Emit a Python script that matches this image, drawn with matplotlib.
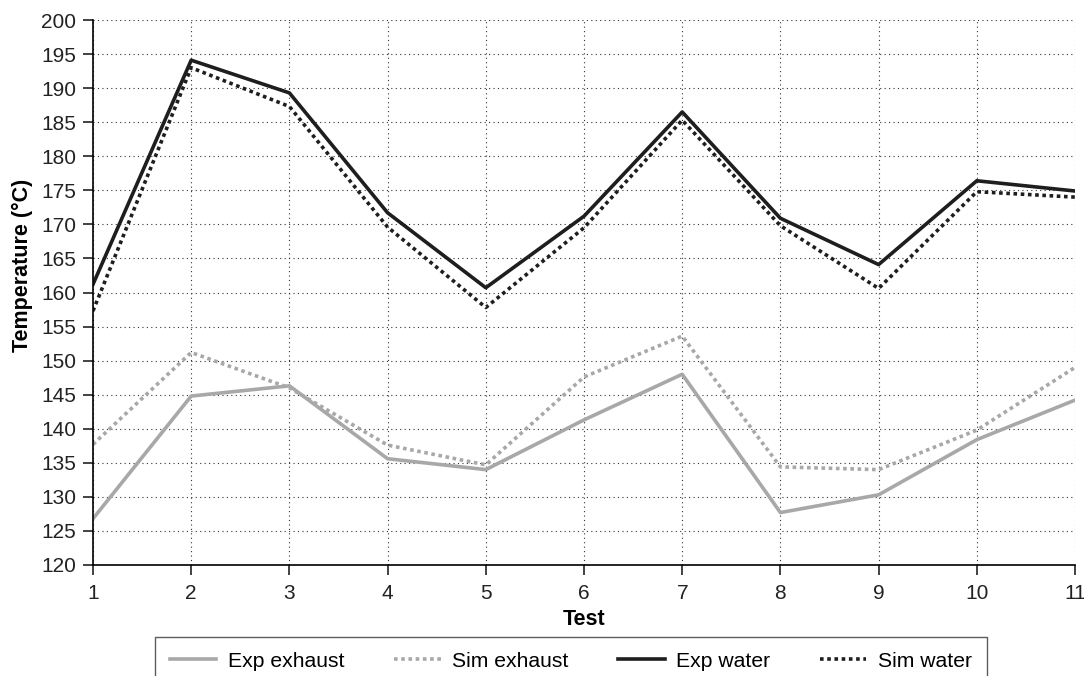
import matplotlib
matplotlib.use("Agg")
import matplotlib.pyplot as plt

plt.rcParams['font.family'] = ['Liberation Sans', 'DejaVu Sans']

tests = [1, 2, 3, 4, 5, 6, 7, 8, 9, 10, 11]
exp_exhaust = [126.8, 144.8, 146.3, 135.6, 134.0, 141.3, 148.0, 127.7, 130.3, 138.4, 144.2]
sim_exhaust = [137.7, 151.2, 146.0, 137.6, 134.7, 147.6, 153.6, 134.4, 134.0, 139.8, 149.0]
exp_water = [161.2, 194.1, 189.3, 171.7, 160.7, 171.2, 186.5, 170.9, 164.1, 176.4, 174.9]
sim_water = [157.3, 193.0, 187.3, 169.6, 157.8, 169.5, 185.3, 169.8, 160.6, 174.8, 174.0]

fig = plt.figure(figsize=(10.84, 6.76), dpi=100)
ax = fig.add_axes([93 / 1084, 1 - 565 / 676, (1075 - 93) / 1084, (565 - 20) / 676])

gray = '#a8a8a8'
dark = '#1e1e1e'
ax.plot(tests, exp_exhaust, color=gray, lw=2.6, label='Exp exhaust')
ax.plot(tests, sim_exhaust, color=gray, lw=2.6, ls=(0, (1, 1)), label='Sim exhaust')
ax.plot(tests, exp_water, color=dark, lw=2.6, label='Exp water')
ax.plot(tests, sim_water, color=dark, lw=2.6, ls=(0, (1, 1)), label='Sim water')

ax.set_xlim(1, 11)
ax.set_ylim(120, 200)
ax.set_xticks(tests)
ax.set_yticks(range(120, 201, 5))
ax.grid(True, color='#333333', lw=0.8, ls=(0, (1, 3)))
ax.set_axisbelow(True)
for s in ['top', 'right']:
    ax.spines[s].set_visible(False)
ax.spines['left'].set_linewidth(1.2)
ax.spines['bottom'].set_linewidth(1.2)
ax.tick_params(axis='both', direction='out', length=7, width=1.2, labelsize=15, colors='#222222')
ax.tick_params(axis='x', pad=7)
ax.tick_params(axis='y', pad=5)
ax.set_xlabel('Test', fontsize=15.5, fontweight='bold', labelpad=4)
ax.set_ylabel('Temperature (°C)', fontsize=15.5, fontweight='bold')
ax.yaxis.set_label_coords((33 - 93) / 982, 0.55)

leg = fig.legend(loc='upper center', bbox_to_anchor=(571 / 1084, 1 - 637 / 676), ncol=4,
                 fontsize=15.2, frameon=True, fancybox=False, edgecolor='#333333',
                 handlelength=2.2, handletextpad=0.55, columnspacing=2.35,
                 borderpad=0.7, borderaxespad=0)
leg.get_frame().set_linewidth(1.0)

fig.savefig('out.png', dpi=100)
